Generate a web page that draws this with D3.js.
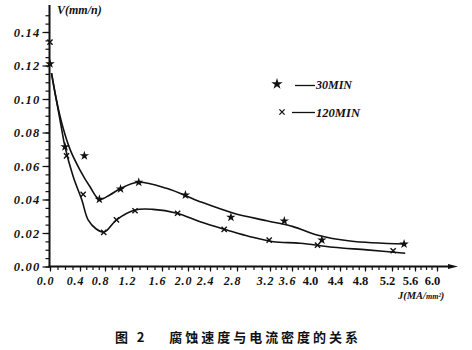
<!DOCTYPE html>
<html>
<head>
<meta charset="utf-8">
<script src="https://cdn.jsdelivr.net/npm/d3@7/dist/d3.min.js"></script>
<style>
  html, body { margin: 0; padding: 0; background: #fff; }
  svg { display: block; }
</style>
</head>
<body>
<svg id="chart" width="472" height="350"></svg>
<script>
// Corrosion rate V (mm/h) against current density J (MA/mm²)
const xTicks = [0.0, 0.4, 0.8, 1.2, 1.6, 2.0, 2.4, 2.8, 3.2, 3.6, 4.0, 4.4, 4.8, 5.2, 5.6, 6.0];
const xTickLabels = ["0.0", "0.4", "0.8", "1.2", "1.6", "2.0", "2.4", "2.8", "3.2", "3.6", "4.0", "4.4", "4.8", "5.2", "5.6", "6.0"];
const yTicks = [0.00, 0.02, 0.04, 0.06, 0.08, 0.10, 0.12, 0.14];
const yTickLabels = ["0.00", "0.02", "0.04", "0.06", "0.08", "0.10", "0.12", "0.14"];

// measured points, 30 min
const pts30J = [0.00, 0.20, 0.47, 0.71, 1.03, 1.29, 1.96, 2.71, 3.46, 4.11, 5.41];
const pts30V = [0.121, 0.0715, 0.0661, 0.0401, 0.0463, 0.0503, 0.0427, 0.0294, 0.0272, 0.0158, 0.0134];
// measured points, 120 min
const pts120J = [0.00, 0.22, 0.45, 0.78, 0.97, 1.24, 1.84, 2.61, 3.19, 4.04, 5.22];
const pts120V = [0.134, 0.0661, 0.0431, 0.0204, 0.0278, 0.0333, 0.0318, 0.0222, 0.0158, 0.0128, 0.0094];

// fitted curves
const fit30J = [0.02, 0.08, 0.17, 0.27, 0.40, 0.56, 0.71, 0.87, 1.02, 1.28, 1.67, 2.22, 2.75, 3.16, 3.62, 4.03, 4.56, 5.43];
const fit30V = [0.1155, 0.1006, 0.0834, 0.0696, 0.0576, 0.0476, 0.0401, 0.0427, 0.0463, 0.0503, 0.0467, 0.0387, 0.0318, 0.0273, 0.0238, 0.0188, 0.0152, 0.0134];
const fit120J = [0.02, 0.08, 0.15, 0.20, 0.31, 0.43, 0.53, 0.66, 0.79, 0.97, 1.24, 1.48, 1.83, 2.22, 2.65, 2.96, 3.26, 3.74, 4.29, 4.83, 5.43];
const fit120V = [0.1155, 0.1006, 0.0834, 0.0715, 0.0536, 0.0397, 0.0278, 0.0224, 0.0206, 0.0278, 0.0337, 0.0341, 0.0318, 0.0267, 0.0218, 0.0178, 0.0148, 0.0139, 0.0115, 0.0099, 0.0079];

const legendLabels = ["30MIN", "120MIN"];
const caption = "图 2　 腐蚀速度与电流密度的关系";

// ---- layout ----
const svg = d3.select("#chart");
const serif = "'Liberation Serif', 'DejaVu Serif', serif";
const ink = "#111";

// the printed J scale is hand-spaced, so map each labelled tick to its own position
const xStops = [50, 80, 105, 132, 162, 188, 210, 237, 270, 292, 315, 340, 365, 392, 415, 437];
const x = d3.scaleLinear().domain(xTicks).range(xStops);
const y = d3.scaleLinear().domain([0, 0.14]).range([266.5, 32]);
const x0 = 49.5, y0 = 266.5;

// minor ticks
const xMinor = d3.range(0, 61).map(i => i / 10);
const yMinor = d3.range(0, 31).map(i => i * 0.005);

const gx = svg.append("g").attr("transform", `translate(0,${y0})`);
gx.call(d3.axisBottom(x).tickValues(xMinor).tickSize(3.5).tickSizeOuter(0).tickFormat(""));
gx.call(g => g.select(".domain").remove());
const gxMajor = svg.append("g").attr("transform", `translate(0,${y0})`);
gxMajor.call(d3.axisBottom(x).tickValues(xTicks).tickSize(5).tickSizeOuter(0)
  .tickFormat((d, i) => xTickLabels[i]));
gxMajor.select(".domain").remove();
gxMajor.selectAll(".tick text")
  .attr("x", -5).attr("y", 10).attr("dy", "0.71em")
  .attr("font-family", serif).attr("font-weight", "bold")
  .attr("font-style", (d, i) => i < 10 ? "italic" : "normal")
  .attr("font-size", (d, i) => i < 10 ? 12 : 12.5)
  .attr("letter-spacing", (d, i) => i < 10 ? 0.8 : 0)
  .attr("fill", ink);

const gy = svg.append("g").attr("transform", `translate(${x0},0)`);
gy.call(d3.axisLeft(y).tickValues(yMinor).tickSize(4).tickSizeOuter(0).tickFormat(""));
gy.select(".domain").remove();
const gyMajor = svg.append("g").attr("transform", `translate(${x0},0)`);
gyMajor.call(d3.axisLeft(y).tickValues(yTicks).tickSize(7).tickSizeOuter(0)
  .tickPadding(2).tickFormat((d, i) => yTickLabels[i]));
gyMajor.select(".domain").remove();
gyMajor.selectAll(".tick text")
  .attr("font-family", serif).attr("font-weight", "bold").attr("font-style", "italic")
  .attr("font-size", 12.5).attr("letter-spacing", 1.2).attr("fill", ink);

svg.selectAll(".tick line").attr("stroke", ink).attr("stroke-width", 1.2);

// axis lines
svg.append("line").attr("x1", x0).attr("x2", x0).attr("y1", y0 + 1).attr("y2", 5)
  .attr("stroke", ink).attr("stroke-width", 2);
svg.append("line").attr("x1", x0 - 1).attr("x2", 452).attr("y1", y0).attr("y2", y0)
  .attr("stroke", ink).attr("stroke-width", 2);
svg.append("path").attr("d", `M448,${y0 - 2.5} L458,${y0} L448,${y0 + 2.5} Z`).attr("fill", ink);

// axis titles
svg.append("text").attr("x", 57).attr("y", 14)
  .attr("font-family", serif).attr("font-weight", "bold").attr("font-style", "italic")
  .attr("font-size", 12).attr("fill", ink).text("V(mm/n)");
const jt = svg.append("text").attr("x", 398).attr("y", 299)
  .attr("font-family", serif).attr("font-weight", "bold").attr("font-style", "italic")
  .attr("font-size", 10.5).attr("fill", ink);
jt.append("tspan").text("J(MA/");
jt.append("tspan").attr("font-size", 8).text("mm²");
jt.append("tspan").text(")");

// fitted curves
const line = d3.line().x(d => x(d[0])).y(d => y(d[1])).curve(d3.curveCatmullRom.alpha(0.5));
[[fit30J, fit30V], [fit120J, fit120V]].forEach(([J, V]) => {
  svg.append("path").datum(J.map((j, i) => [j, V[i]]))
    .attr("d", line).attr("fill", "none").attr("stroke", ink).attr("stroke-width", 1.6);
});

// markers
const star = d3.symbol().type(d3.symbolStar).size(28);
svg.append("g").selectAll("path").data(pts30J.map((j, i) => [j, pts30V[i]])).join("path")
  .attr("d", star)
  .attr("transform", d => `translate(${x(d[0])},${y(d[1])})`)
  .attr("fill", ink);

function cross(s) {
  return `M${-s},${-s}L${s},${s}M${-s},${s}L${s},${-s}`;
}
svg.append("g").selectAll("path").data(pts120J.map((j, i) => [j, pts120V[i]])).join("path")
  .attr("d", cross(2.6))
  .attr("transform", d => `translate(${x(d[0])},${y(d[1])})`)
  .attr("stroke", ink).attr("stroke-width", 1.4).attr("fill", "none");

// legend
svg.append("path").attr("d", d3.symbol().type(d3.symbolStar).size(40)())
  .attr("transform", "translate(277,84)").attr("fill", ink);
svg.append("line").attr("x1", 295).attr("x2", 315).attr("y1", 85.5).attr("y2", 85.5)
  .attr("stroke", ink).attr("stroke-width", 1.3);
svg.append("path").attr("d", cross(2.6)).attr("transform", "translate(282,112)")
  .attr("stroke", ink).attr("stroke-width", 1.3).attr("fill", "none");
svg.append("line").attr("x1", 292).attr("x2", 315).attr("y1", 112.5).attr("y2", 112.5)
  .attr("stroke", ink).attr("stroke-width", 1.3);
svg.append("text").attr("x", 316).attr("y", 89)
  .attr("font-family", serif).attr("font-weight", "bold").attr("font-style", "italic")
  .attr("font-size", 13.5).attr("textLength", 36).attr("lengthAdjust", "spacingAndGlyphs")
  .attr("fill", ink).text(legendLabels[0]);
svg.append("text").attr("x", 316).attr("y", 117)
  .attr("font-family", serif).attr("font-weight", "bold").attr("font-style", "italic")
  .attr("font-size", 12.5).attr("textLength", 44).attr("lengthAdjust", "spacingAndGlyphs")
  .attr("fill", ink).text(legendLabels[1]);

// caption
svg.append("text").attr("x", 115).attr("y", 342)
  .attr("font-family", "'Noto Sans CJK SC', sans-serif").attr("font-weight", "bold")
  .attr("font-size", 13).attr("textLength", 243).attr("lengthAdjust", "spacing")
  .attr("fill", ink).text(caption);
</script>
</body>
</html>
